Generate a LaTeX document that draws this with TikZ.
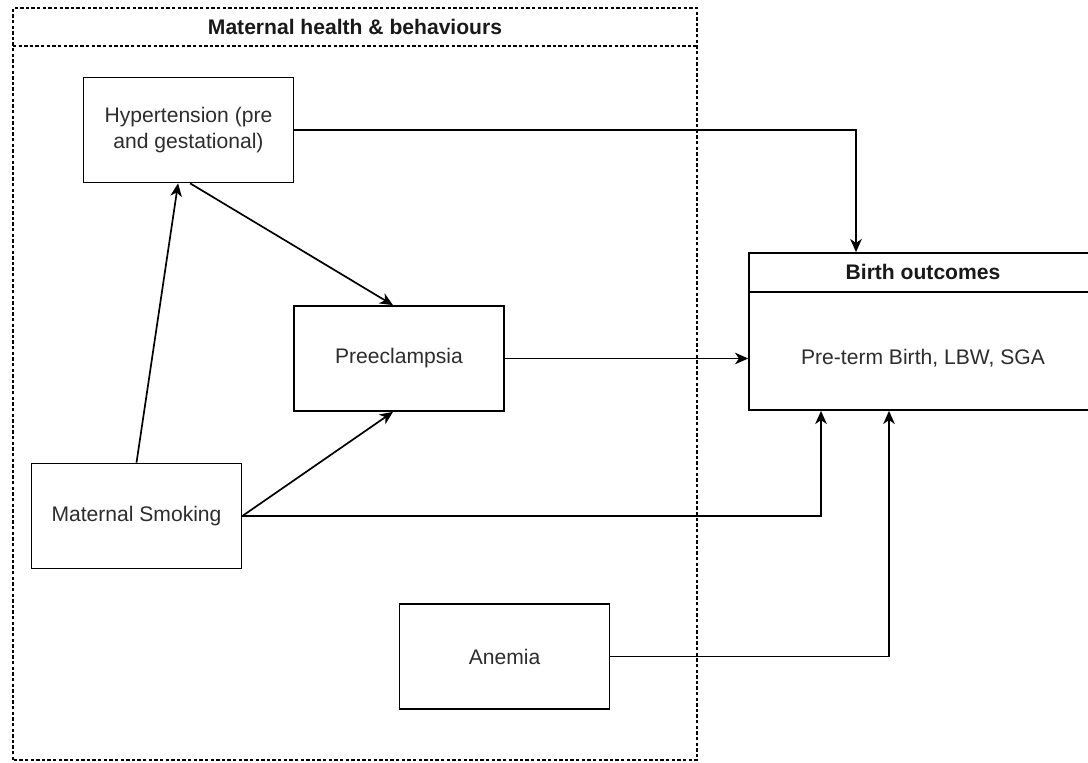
\documentclass[tikz,border=0pt]{standalone}
\usepackage{fontspec}
\setmainfont{Liberation Sans}
\usetikzlibrary{arrows.meta}
\definecolor{labeltext}{RGB}{45,45,45}
\tikzstyle{box}=[draw, line width=1.2pt, minimum width=5.25cm, minimum height=2.625cm, align=center, text=labeltext, font=\fontsize{15}{18}\selectfont]
\tikzstyle{heading}=[font=\fontsize{15}{18}\selectfont\bfseries, text=black!90]
\tikzset{group/.style={dash pattern=on 2.4pt off 1.6pt, line width=0.9pt}}
\tikzset{link/.style={-{Stealth[length=0.33cm,width=0.29cm,inset=0.1cm]}, line width=1.2pt}}

\begin{document}
\begin{tikzpicture}
  \useasboundingbox (0,0) rectangle (27.2,19.05);
  \fill[white] (0,0) rectangle (27.2,19.05);

  %% Maternal health group
  \draw[group] (0.325,0.05) rectangle (17.425,18.85);
  \draw[group] (0.325,17.9) -- (17.425,17.9);
  \draw (8.875,18.375) node[heading] (G) {Maternal health \& behaviours};

  \draw (4.7125,15.8) node[box] (H) {Hypertension (pre\\and gestational)};
  \draw (9.975,10.0875) node[box] (P) {Preeclampsia};
  \draw (3.4125,6.15) node[box] (S) {Maternal Smoking};
  \draw (12.6125,2.6375) node[box] (A) {Anemia};

  %% Birth outcomes
  \draw (23.075,10.7625) node[box,minimum width=8.7cm,minimum height=3.925cm] (B) {};
  \draw[line width=1.2pt] ([yshift=-1cm]B.north west) -- ([yshift=-1cm]B.north east);
  \draw ([yshift=-0.5cm]B.north) node[heading] (BT) {Birth outcomes};
  \draw (23.075,10.1) node[text=labeltext,font=\fontsize{15}{18}\selectfont] (BL) {Pre-term Birth, LBW, SGA};

  \draw[link] (S.north) -- ([xshift=-0.26cm]H.south);
  \draw[link] ([xshift=0.04cm]H.south) -- ([xshift=-0.15cm]P.north);
  \draw[link] (S.east) -- ([xshift=-0.15cm]P.south);

  \draw[link] (H.east) -| ([xshift=-1.675cm]B.north);
  \draw[link] (P.east) -- (P.east -| B.west);
  \draw[link] (S.east) -| ([xshift=-2.55cm]B.south);
  \draw[link] (A.east) -| ([xshift=-0.85cm]B.south);
\end{tikzpicture}
\end{document}
